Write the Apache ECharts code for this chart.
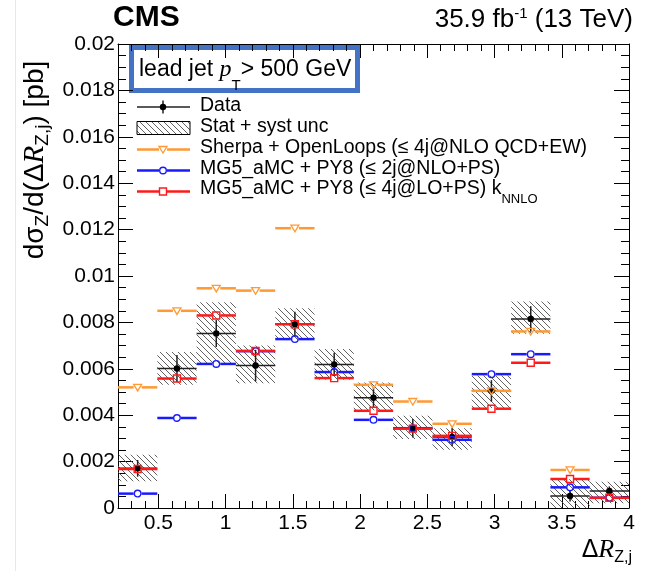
<!DOCTYPE html>
<html><head><meta charset="utf-8">
<script src="https://cdn.jsdelivr.net/npm/echarts@6/dist/echarts.min.js"></script>
<style>html,body{margin:0;padding:0;background:#fff}#c{width:662px;height:571px}</style>
</head><body><div id="c"></div>
<script>
// ---- data ----
const binEdges = [0.2, 0.4923, 0.7846, 1.0769, 1.3692, 1.6615, 1.9538, 2.2462, 2.5385, 2.8308, 3.1231, 3.4154, 3.7077, 4.0];
const dataVals = [0.00171, 0.00601, 0.00752, 0.00614, 0.00792, 0.00619, 0.00475, 0.00344, 0.00306, 0.00505, 0.00815, 0.00052, 0.00073];
const dataErr  = [0.00036, 0.00058, 0.00058, 0.00068, 0.00054, 0.00050, 0.00043, 0.00040, 0.00040, 0.00046, 0.00055, 0.00024, 0.00020];
const uncLow   = [0.00115, 0.00531, 0.00624, 0.00538, 0.00725, 0.00553, 0.00421, 0.00297, 0.00251, 0.00431, 0.00751, 0.00000, 0.00021];
const uncHigh  = [0.00230, 0.00672, 0.00887, 0.00700, 0.00861, 0.00685, 0.00541, 0.00398, 0.00344, 0.00571, 0.00890, 0.00124, 0.00113];
const sherpa   = [0.00520, 0.00850, 0.00947, 0.00937, 0.01206, null, 0.00531, 0.00459, 0.00363, 0.00505, 0.00761, 0.00164, null];
const mg5nlo   = [0.00062, 0.00388, 0.00621, 0.00676, 0.00728, 0.00586, 0.00380, 0.00344, 0.00294, 0.00577, 0.00663, 0.00089, 0.00044];
const mg5lo    = [0.00168, 0.00558, 0.00830, 0.00677, 0.00792, 0.00560, 0.00419, 0.00342, 0.00311, 0.00428, 0.00626, 0.00125, 0.00044];
const xMajorTicks = [0.5, 1, 1.5, 2, 2.5, 3, 3.5, 4];
const legendLabels = ['Data', 'Stat + syst unc', 'Sherpa + OpenLoops (\u2264 4j@NLO QCD+EW)', 'MG5_aMC + PY8 (\u2264 2j@NLO+PS)', 'MG5_aMC + PY8 (\u2264 4j@LO+PS) k'];

const COL_ORANGE = '#ff9933', COL_BLUE = '#1a1aff', COL_RED = '#ff1a1a';
const FONT = "'Liberation Sans', Arial, Helvetica, sans-serif";
const SERIF = "'Liberation Serif', 'Times New Roman', serif";

function makeHatch() {
  const c = document.createElement('canvas'); c.width = 6; c.height = 6;
  const g = c.getContext('2d'); g.strokeStyle = '#505050'; g.lineWidth = 0.9;
  g.beginPath();
  g.moveTo(-1, -1); g.lineTo(7, 7);
  g.moveTo(-1, 5); g.lineTo(1, 7);
  g.moveTo(5, -1); g.lineTo(7, 1);
  g.stroke();
  return c;
}
const hatch = { image: makeHatch(), repeat: 'repeat' };

function markerEl(kind, cx, cy, color) {
  if (kind === 'circle') return { type: 'circle', shape: { cx, cy, r: 3.3 }, style: { fill: 'none', stroke: color, lineWidth: 1.4 } };
  if (kind === 'square') return { type: 'rect', shape: { x: cx - 3.5, y: cy - 3.5, width: 7, height: 7 }, style: { fill: 'none', stroke: color, lineWidth: 1.4 } };
  return { type: 'polygon', shape: { points: [[cx - 4, cy - 3], [cx + 4, cy - 3], [cx, cy + 3.6]] }, style: { fill: 'none', stroke: color, lineWidth: 1.3 } };
}
const GAP = 4;
function stepSeries(name, vals, color, marker, z) {
  const data = [];
  vals.forEach((v, i) => { if (v != null) data.push([binEdges[i], binEdges[i + 1], v]); });
  return {
    type: 'custom', name, z, data, encode: { x: [0, 1], y: 2 },
    renderItem(params, api) {
      const a = api.coord([api.value(0), api.value(2)]);
      const b = api.coord([api.value(1), api.value(2)]);
      const cx = (a[0] + b[0]) / 2, cy = a[1];
      return { type: 'group', children: [
        { type: 'line', shape: { x1: a[0], y1: cy, x2: cx - GAP, y2: cy }, style: { stroke: color, lineWidth: 2.5 } },
        { type: 'line', shape: { x1: cx + GAP, y1: cy, x2: b[0], y2: cy }, style: { stroke: color, lineWidth: 2.5 } },
        markerEl(marker, cx, cy, color)
      ] };
    }
  };
}

const bandData = uncLow.map((lo, i) => [binEdges[i], binEdges[i + 1], lo, uncHigh[i]]);
const pointData = dataVals.map((v, i) => [binEdges[i], binEdges[i + 1], v, dataErr[i]]);

const series = [
  {
    type: 'custom', name: 'unc', z: 1, data: bandData, encode: { x: [0, 1], y: [2, 3] },
    renderItem(params, api) {
      const p0 = api.coord([api.value(0), api.value(3)]);
      const p1 = api.coord([api.value(1), api.value(2)]);
      return { type: 'rect', shape: { x: p0[0], y: p0[1], width: p1[0] - p0[0], height: p1[1] - p0[1] }, style: { fill: hatch } };
    }
  },
  {
    type: 'custom', name: 'data', z: 2, data: pointData, encode: { x: [0, 1], y: 2 },
    renderItem(params, api) {
      const y = api.value(2), e = api.value(3);
      const a = api.coord([api.value(0), y]), b = api.coord([api.value(1), y]);
      const cx = (a[0] + b[0]) / 2;
      const up = api.coord([api.value(0), y + e])[1], dn = api.coord([api.value(0), y - e])[1];
      return { type: 'group', children: [
        { type: 'line', shape: { x1: a[0], y1: a[1], x2: b[0], y2: a[1] }, style: { stroke: '#222', lineWidth: 1.5 } },
        { type: 'line', shape: { x1: cx, y1: up, x2: cx, y2: dn }, style: { stroke: '#222', lineWidth: 1.5 } },
        { type: 'circle', shape: { cx, cy: a[1], r: 3.2 }, style: { fill: '#000' } }
      ] };
    }
  },
  stepSeries('sherpa', sherpa, COL_ORANGE, 'tri', 3),
  stepSeries('mg5nlo', mg5nlo, COL_BLUE, 'circle', 4),
  stepSeries('mg5lo', mg5lo, COL_RED, 'square', 5)
];

const axLine = { show: true, lineStyle: { color: '#000', width: 1 } };
function xAx(pos, major, labels) {
  const o = {
    type: 'value', position: pos, min: 0.2, max: 4, splitLine: { show: false },
    axisLine: major ? { show: false } : axLine,
    axisTick: { show: true, inside: true, length: major ? 14 : 7, lineStyle: { color: '#000', width: 1 } },
    axisLabel: { show: false }
  };
  if (major) {
    o.axisTick.customValues = xMajorTicks;
    if (labels) o.axisLabel = { show: true, customValues: xMajorTicks, margin: 5, color: '#000', fontSize: 21, fontFamily: FONT, formatter: v => String(+v.toFixed(1)) };
  } else {
    o.interval = 0.1;
  }
  return o;
}
function yAx(pos, labels) {
  return {
    type: 'value', position: pos, min: 0, max: 0.02, interval: 0.002, splitLine: { show: false },
    axisLine: axLine,
    axisTick: { show: true, inside: true, length: 15, lineStyle: { color: '#000', width: 1 } },
    minorTick: { show: true, splitNumber: 4, length: 8, lineStyle: { color: '#000', width: 1 } },
    axisLabel: labels ? { show: true, margin: 3, color: '#000', fontSize: 21, fontFamily: FONT, formatter: v => String(+v.toFixed(3)) } : { show: false }
  };
}

// legend (drawn as graphic)
const rows = [107, 128, 149.5, 170.5, 191.5];
const textRows = [105.5, 126.5, 147.5, 168.5, 189];
const LX0 = 137, LX1 = 190, LXM = 163, TX = 200;
const leg = [];
leg.push({ type: 'line', shape: { x1: LX0, y1: rows[0], x2: LX1, y2: rows[0] }, style: { stroke: '#222', lineWidth: 1.5 } });
leg.push({ type: 'line', shape: { x1: LXM, y1: rows[0] - 6.5, x2: LXM, y2: rows[0] + 6.5 }, style: { stroke: '#222', lineWidth: 1.5 } });
leg.push({ type: 'circle', shape: { cx: LXM, cy: rows[0], r: 3.2 }, style: { fill: '#000' } });
leg.push({ type: 'rect', shape: { x: LX0, y: rows[1] - 6.5, width: LX1 - LX0, height: 13 }, style: { fill: hatch, stroke: '#000', lineWidth: 1 } });
[[COL_ORANGE, 'tri'], [COL_BLUE, 'circle'], [COL_RED, 'square']].forEach((d, k) => {
  const y = rows[k + 2];
  leg.push({ type: 'line', shape: { x1: LX0, y1: y, x2: LXM - GAP, y2: y }, style: { stroke: d[0], lineWidth: 2.5 } });
  leg.push({ type: 'line', shape: { x1: LXM + GAP, y1: y, x2: LX1, y2: y }, style: { stroke: d[0], lineWidth: 2.5 } });
  leg.push(markerEl(d[1], LXM, y, d[0]));
});
legendLabels.forEach((t, k) => {
  if (k === 4) {
    leg.push({ type: 'text', style: { x: TX, y: textRows[k], text: '{a|' + t + '}{s|NNLO}', align: 'left', verticalAlign: 'middle', textAlign: 'left', textVerticalAlign: 'middle',
      rich: { a: { fontSize: 19.5, fontFamily: FONT, color: '#000', lineHeight: 34 }, s: { fontSize: 13, fontFamily: FONT, color: '#000', lineHeight: 13, verticalAlign: 'bottom' } } } });
  } else {
    leg.push({ type: 'text', style: { x: TX, y: textRows[k], text: t, fontSize: 19.5, fontFamily: FONT, fill: '#000', align: 'left', verticalAlign: 'middle', textAlign: 'left', textVerticalAlign: 'middle' } });
  }
});

const graphics = [
  { type: 'line', shape: { x1: 15.5, y1: 0, x2: 15.5, y2: 571 }, style: { stroke: '#e8e8e8', lineWidth: 1 } },
  { type: 'text', style: { x: 113, y: 18, text: 'CMS', fontSize: 30, fontWeight: 'bold', fontFamily: FONT, fill: '#000', align: 'left', verticalAlign: 'middle', textAlign: 'left', textVerticalAlign: 'middle' } },
  { type: 'text', style: { x: 633, y: 20, text: '{a|35.9 fb}{s|-1}{a| (13 TeV)}', align: 'right', verticalAlign: 'middle', textAlign: 'right', textVerticalAlign: 'middle',
    rich: { a: { fontSize: 26, fontFamily: FONT, color: '#000', lineHeight: 28 }, s: { fontSize: 15, fontFamily: FONT, color: '#000', lineHeight: 15, verticalAlign: 'top' } } } },
  { type: 'rect', shape: { x: 131.5, y: 47.5, width: 226, height: 43 }, style: { fill: 'none', stroke: '#4472c4', lineWidth: 5 } },
  { type: 'text', style: { x: 139, y: 70, text: '{a|lead jet }{i|p}{s|T}{a|> 500 GeV}', align: 'left', verticalAlign: 'middle', textAlign: 'left', textVerticalAlign: 'middle',
    rich: { a: { fontSize: 23, fontFamily: FONT, color: '#000', lineHeight: 46 }, i: { fontSize: 24, fontFamily: SERIF, fontStyle: 'italic', color: '#000', lineHeight: 46 }, s: { fontSize: 15, fontFamily: FONT, color: '#000', lineHeight: 14, verticalAlign: 'bottom' } } } },
  { type: 'text', x: 35, y: 160, rotation: Math.PI / 2, style: { x: 0, y: 0, text: '{a|d\u03c3}{s|Z}{a|/d(\u0394}{i|R}{s|Z,j}{a|) [pb]}', align: 'center', verticalAlign: 'middle', textAlign: 'center', textVerticalAlign: 'middle',
    rich: { a: { fontSize: 28, fontFamily: FONT, color: '#000', lineHeight: 34 }, i: { fontSize: 29, fontFamily: SERIF, fontStyle: 'italic', color: '#000', lineHeight: 34 }, s: { fontSize: 19, fontFamily: FONT, color: '#000', lineHeight: 19, verticalAlign: 'bottom' } } } },
  { type: 'text', style: { x: 632, y: 550, text: '{a|\u0394}{i|R}{s|Z,j}', align: 'right', verticalAlign: 'middle', textAlign: 'right', textVerticalAlign: 'middle',
    rich: { a: { fontSize: 25, fontFamily: FONT, color: '#000', lineHeight: 32 }, i: { fontSize: 26, fontFamily: SERIF, fontStyle: 'italic', color: '#000', lineHeight: 32 }, s: { fontSize: 16, fontFamily: FONT, color: '#000', lineHeight: 16, verticalAlign: 'bottom' } } } },
  { type: 'group', children: leg }
];

const chart = echarts.init(document.getElementById('c'), null, { renderer: 'canvas' });
chart.setOption({
  animation: false,
  backgroundColor: '#fff',
  grid: { left: 118, right: 33, top: 44, bottom: 63, containLabel: false, outerBoundsMode: 'none' },
  xAxis: [xAx('bottom', false), xAx('bottom', true, true), xAx('top', false), xAx('top', true, false)],
  yAxis: [yAx('left', true), yAx('right', false)],
  series: series.map(s => Object.assign(s, { xAxisIndex: 0, yAxisIndex: 0 })),
  graphic: graphics
});
</script></body></html>
